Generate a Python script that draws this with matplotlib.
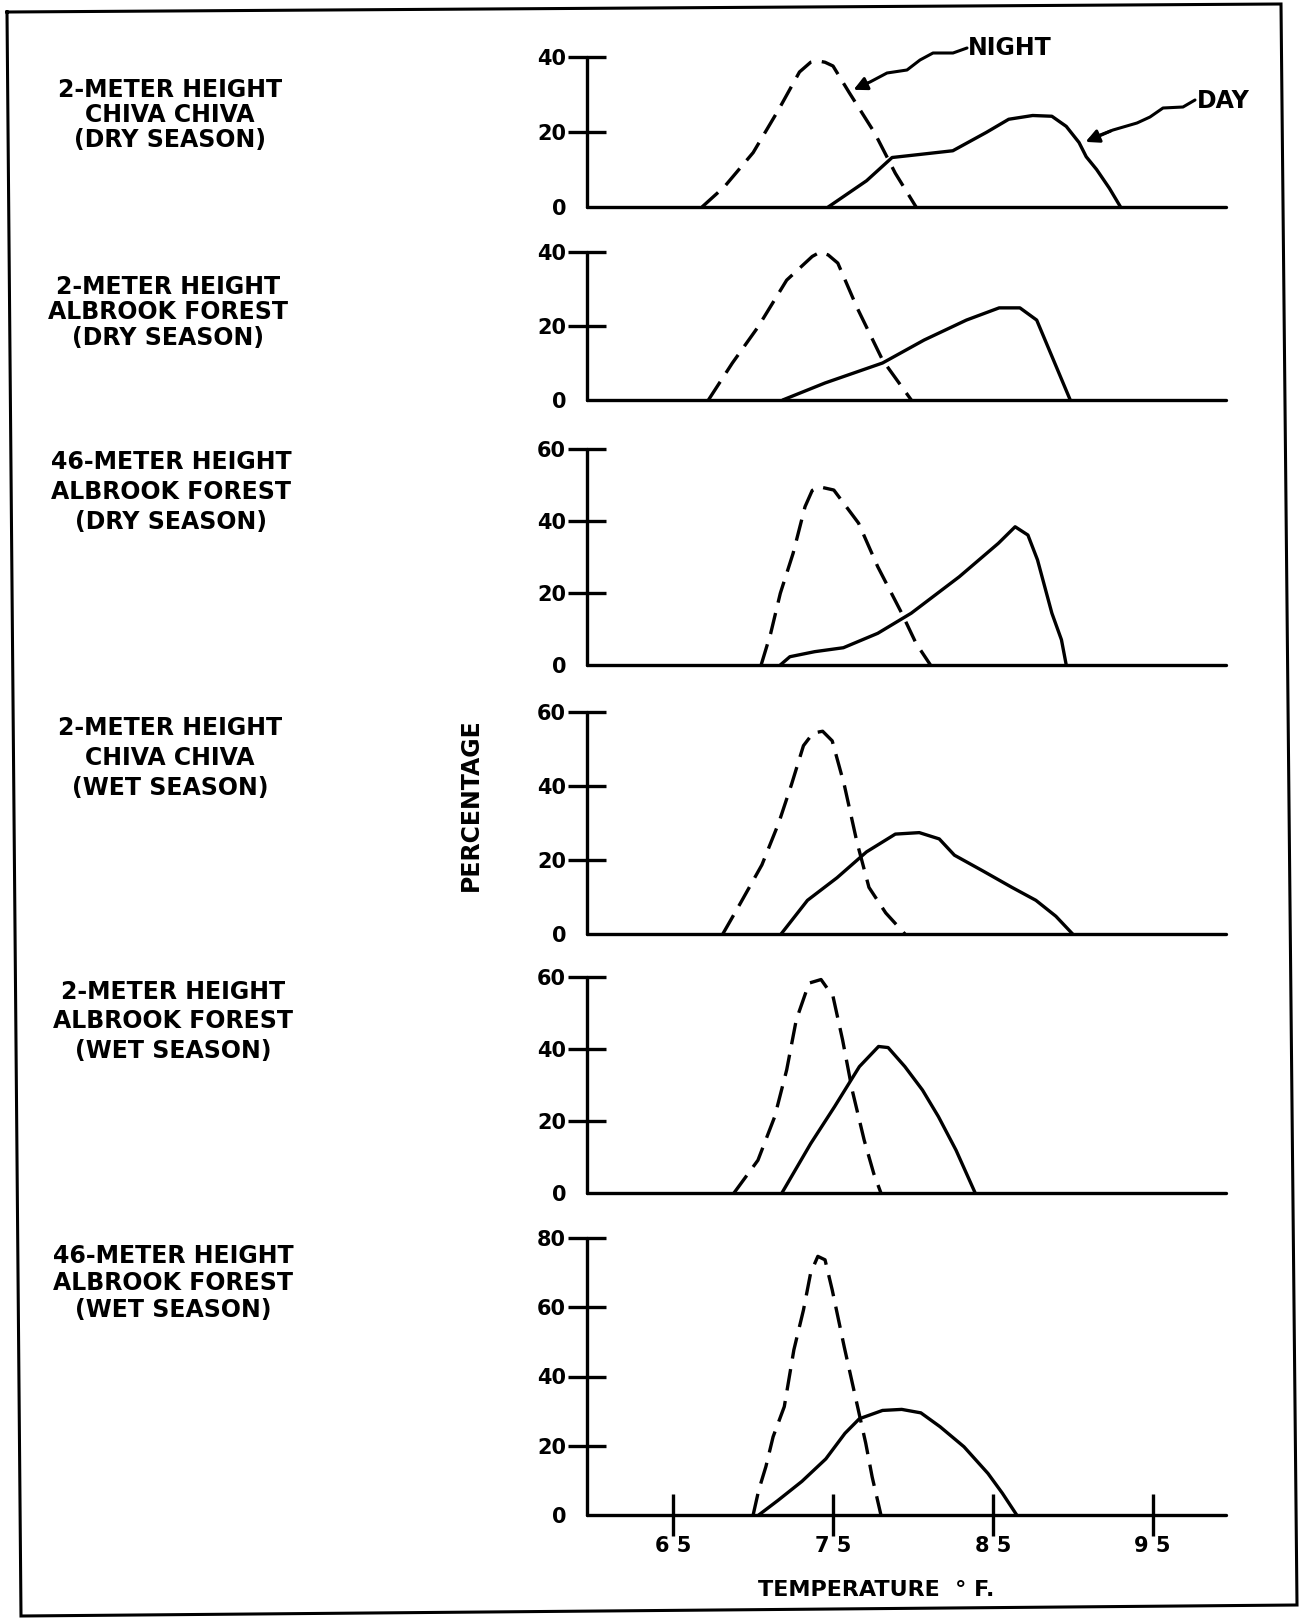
import matplotlib
matplotlib.use("Agg")
import matplotlib.pyplot as plt
from matplotlib.lines import Line2D

# ---------------- data ----------------
panel_labels = [
    ["2-METER HEIGHT", "CHIVA CHIVA", "(DRY SEASON)"],
    ["2-METER HEIGHT", "ALBROOK FOREST", "(DRY SEASON)"],
    ["46-METER HEIGHT", "ALBROOK FOREST", "(DRY SEASON)"],
    ["2-METER HEIGHT", "CHIVA CHIVA", "(WET SEASON)"],
    ["2-METER HEIGHT", "ALBROOK FOREST", "(WET SEASON)"],
    ["46-METER HEIGHT", "ALBROOK FOREST", "(WET SEASON)"],
]
y_max = [40, 40, 60, 60, 60, 80]
x_ticks = [65, 75, 85, 95]
x_ticklabels = ["6 5", "7 5", "8 5", "9 5"]
x_range = [59.6, 99.6]

# panel 1: 2 m, Chiva Chiva, dry season
night_t1 = [66.8, 68.2, 70.0, 71.6, 72.9, 73.6, 74.0, 74.5, 75.0, 76.0, 77.6, 78.9, 80.2]
night_p1 = [0, 5.4, 14.5, 26, 36, 38.6, 39, 38.6, 37.6, 30.6, 19.8, 9, 0]
day_t1 = [74.7, 77.1, 78.7, 80.4, 82.5, 84.6, 86.0, 87.5, 88.7, 89.6, 90.4, 90.85, 91.5, 92.3, 93.0]
day_p1 = [0, 7, 13.2, 14, 15, 19.9, 23.4, 24.4, 24.2, 21.5, 17.2, 13.4, 10, 5, 0]

# panel 2: 2 m, Albrook Forest, dry season
night_t2 = [67.2, 68.7, 70.3, 72.1, 73.7, 74.2, 74.7, 75.3, 76.5, 78.1, 79.9]
night_p2 = [0, 10, 19.7, 32.4, 38.8, 40, 39.2, 37, 25, 10.8, 0]
day_t2 = [71.85, 74.5, 78.1, 80.7, 83.35, 85.4, 86.7, 87.75, 88.8, 89.85]
day_p2 = [0, 4.6, 10, 16.2, 21.6, 24.9, 24.9, 21.6, 10.8, 0]

# panel 3: 46 m, Albrook Forest, dry season
night_t3 = [70.5, 71.1, 71.7, 72.5, 73.25, 73.7, 74.15, 75.05, 76.6, 77.8, 79.3, 80.2, 81.1]
night_p3 = [0, 8.8, 19.9, 31, 44, 48.5, 49.5, 48.6, 39.4, 27.3, 14.4, 6, 0]
day_t3 = [71.7, 72.3, 73.85, 75.65, 77.8, 79.9, 82.9, 85.35, 86.4, 87.2, 87.8, 88.7, 89.3, 89.6]
day_p3 = [0, 2.3, 3.7, 4.8, 8.8, 14.4, 24.5, 33.8, 38.4, 36.1, 29.2, 14.4, 7, 0]

# panel 4: 2 m, Chiva Chiva, wet season
night_t4 = [68.1, 69.2, 70.55, 71.6, 72.4, 73.15, 73.75, 74.35, 74.95, 75.7, 76.5, 77.25, 78.3, 79.5]
night_p4 = [0, 8.3, 18.7, 30, 40.4, 50.9, 54.3, 54.8, 52.2, 40.4, 24.8, 12.6, 5.7, 0]
day_t4 = [71.75, 73.4, 75.25, 77.1, 78.9, 80.4, 81.65, 82.6, 84.4, 86.2, 87.7, 88.95, 90.0]
day_p4 = [0, 9.1, 15.2, 22.2, 27, 27.4, 25.7, 21.3, 17, 12.6, 9.1, 4.8, 0]

# panel 5: 2 m, Albrook Forest, wet season
night_t5 = [68.8, 70.3, 71.35, 72.1, 72.7, 73.5, 74.25, 75.0, 75.6, 76.2, 76.95, 77.55, 78.0]
night_p5 = [0, 9.1, 21.2, 34.2, 48.1, 58.3, 59.3, 54.6, 42.5, 28.6, 14.7, 5.4, 0]
day_t5 = [71.8, 73.6, 75.1, 76.65, 77.85, 78.45, 79.5, 80.6, 81.6, 82.7, 83.9]
day_p5 = [0, 13.7, 24, 35.1, 40.7, 40.4, 35.1, 28.6, 21.2, 11.9, 0]

# panel 6: 46 m, Albrook Forest, wet season
night_t6 = [70.0, 70.35, 70.8, 71.25, 71.95, 72.55, 73.15, 73.6, 74.05, 74.5, 74.95, 75.7, 76.6, 77.05, 77.45, 78.0]
night_p6 = [0, 7.2, 14, 22.6, 31.3, 47.7, 59.2, 69.9, 74.7, 73.7, 65, 48.6, 30, 20.7, 11, 0]
day_t6 = [70.35, 71.55, 73.05, 74.55, 75.75, 76.65, 78.1, 79.3, 80.5, 81.7, 83.2, 84.7, 85.6, 86.5]
day_p6 = [0, 4.2, 9.7, 16.2, 23.6, 27.8, 30.2, 30.5, 29.5, 25.5, 19.7, 12, 6.3, 0]

night_t = [night_t1, night_t2, night_t3, night_t4, night_t5, night_t6]
night_p = [night_p1, night_p2, night_p3, night_p4, night_p5, night_p6]
day_t = [day_t1, day_t2, day_t3, day_t4, day_t5, day_t6]
day_p = [day_p1, day_p2, day_p3, day_p4, day_p5, day_p6]

# ---------------- layout (pixels) ----------------
W, H = 1303, 1618
plt.rcParams['font.family'] = ['DejaVu Sans']
plt.rcParams['font.weight'] = 'bold'
LW = 2.4

fig = plt.figure(figsize=(W / 100, H / 100), dpi=100)
fig.patch.set_facecolor('white')

def fx(x):
    return x / W

def fy(y):
    return 1 - y / H

ax_left, ax_right = 587, 1226
tops = [57, 252, 449, 712, 977, 1238]
bases = [207, 400, 665, 934, 1193, 1515]
label_y = [[90, 115, 140], [287, 312, 338], [462, 492, 522],
           [728, 758, 788], [992, 1021, 1051], [1256, 1283, 1310]]
label_x = [170, 168, 171, 170, 173, 173]

for i in range(6):
    ax = fig.add_axes([fx(ax_left), fy(bases[i]), (ax_right - ax_left) / W,
                       (bases[i] - tops[i]) / H])
    ax.set_xlim(x_range)
    ax.set_ylim(0, y_max[i])
    ax.patch.set_alpha(0)
    for s in ['top', 'right']:
        ax.spines[s].set_visible(False)
    for s in ['left', 'bottom']:
        ax.spines[s].set_linewidth(LW)
        ax.spines[s].set_capstyle('round')
    ax.plot(night_t[i], night_p[i], color='black', lw=LW, ls=(0, (6.5, 3.2)),
            dash_capstyle='butt', solid_joinstyle='round', clip_on=False)
    ax.plot(day_t[i], day_p[i], color='black', lw=LW,
            solid_capstyle='round', solid_joinstyle='round', clip_on=False)
    yt = list(range(0, y_max[i] + 1, 20))
    ax.set_yticks(yt)
    ax.set_yticklabels([str(v) for v in yt])
    ax.tick_params(axis='y', direction='inout', length=28, width=LW, pad=1,
                   labelsize=15)
    ax.yaxis.get_major_ticks()[0].tick1line.set_visible(False)
    if i == 5:
        ax.set_xticks(x_ticks)
        ax.set_xticklabels(x_ticklabels)
        ax.tick_params(axis='x', direction='inout', length=30, width=LW, pad=0,
                       labelsize=15)
    else:
        ax.set_xticks([])
    for line_txt, yy in zip(panel_labels[i], label_y[i]):
        fig.text(fx(label_x[i]), fy(yy), line_txt, ha='center', va='center',
                 fontsize=17, fontweight='bold')

fig.text(fx(471), fy(805), 'PERCENTAGE', rotation=90, ha='center', va='center',
         fontsize=17, fontweight='bold')
fig.text(fx(876), fy(1590), 'TEMPERATURE  \u00b0 F.', ha='center', va='center',
         fontsize=16, fontweight='bold')

# NIGHT / DAY annotations with wavy leaders
fig.text(fx(968), fy(48), 'NIGHT', ha='left', va='center', fontsize=17, fontweight='bold')
fig.text(fx(1197), fy(101), 'DAY', ha='left', va='center', fontsize=17, fontweight='bold')
night_lead = [(967, 48), (953, 53), (933, 53), (920, 60), (907, 70), (887, 73), (870, 82), (858, 87)]
day_lead = [(1195, 100), (1183, 107), (1163, 108), (1150, 117), (1137, 123), (1113, 130), (1090, 139)]
for lead, tip in [(night_lead, (851, 91)), (day_lead, (1083, 143))]:
    fig.add_artist(Line2D([fx(p[0]) for p in lead], [fy(p[1]) for p in lead],
                          color='black', lw=2.2, solid_joinstyle='round',
                          solid_capstyle='round', transform=fig.transFigure))
    fig.add_artist(matplotlib.patches.FancyArrowPatch(
        (fx(lead[-2][0]), fy(lead[-2][1])), (fx(tip[0]), fy(tip[1])),
        arrowstyle='-|>,head_length=8,head_width=4', mutation_scale=1,
        color='black', lw=2.2, transform=fig.transFigure))

# outer frame (slightly skewed, as in the scanned original)
frame_x = [7, 1281, 1297, 21, 7]
frame_y = [12, 4, 1605, 1616, 12]
fig.add_artist(Line2D([fx(v) for v in frame_x], [fy(v) for v in frame_y],
                      color='black', lw=2.2, solid_joinstyle='miter',
                      transform=fig.transFigure))

fig.savefig('out.png', dpi=100, facecolor='white')
